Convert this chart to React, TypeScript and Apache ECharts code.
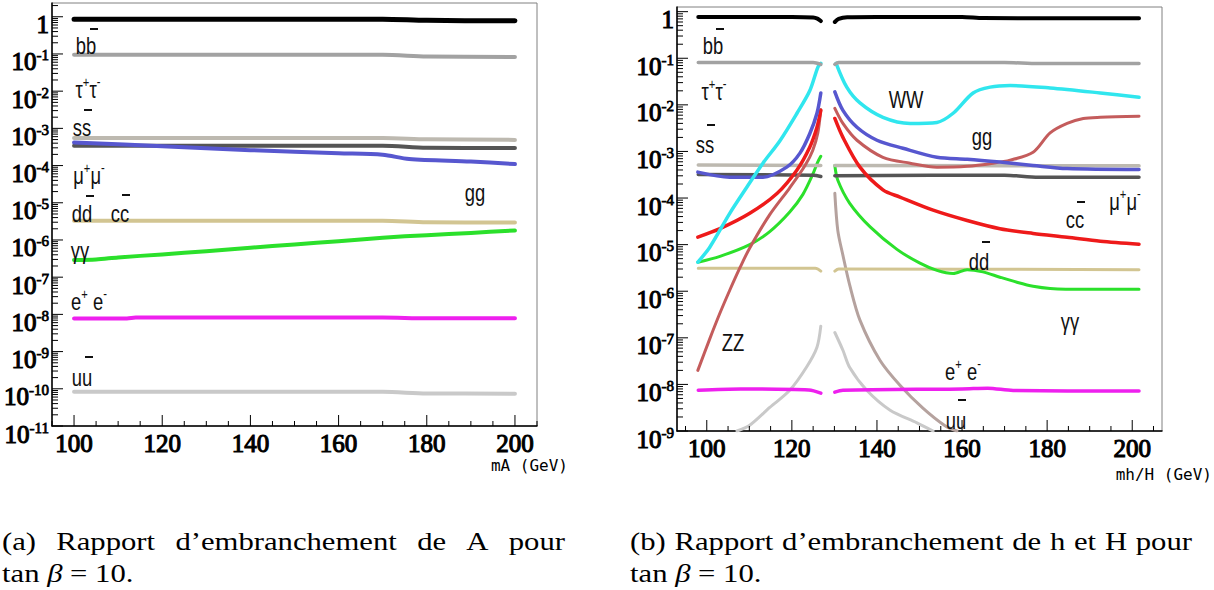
import React, { useEffect, useRef } from 'react';
import * as echarts from 'echarts';

type P = [number, number];

// ---------- Panel (a): A, tan(beta) = 10  (x = mA in GeV, y = branching ratio) ----------
const A_BB: P[] = [[100, 0.86], [150, 0.86], [170, 0.86], [180, 0.8], [200, 0.78]];
const A_TAUTAU: P[] = [[100, 0.095], [170, 0.095], [180, 0.086], [200, 0.083]];
const A_SS: P[] = [[100, 5.5e-4], [170, 5.5e-4], [180, 5.1e-4], [200, 4.9e-4]];
const A_MUMU: P[] = [[100, 3.4e-4], [170, 3.4e-4], [180, 3.0e-4], [200, 2.95e-4]];
const A_GG: P[] = [[100, 4.2e-4], [120, 3.3e-4], [140, 2.6e-4], [160, 2.15e-4], [170, 1.95e-4], [176, 1.5e-4], [190, 1.28e-4], [200, 1.1e-4]];
const A_DD: P[] = [[100, 3.3e-6], [170, 3.3e-6], [180, 3.0e-6], [200, 2.95e-6]];
const A_GAMGAM: P[] = [[100, 2.9e-7], [105, 3.0e-7], [110, 3.4e-7], [120, 4.1e-7], [130, 5.0e-7], [140, 6.2e-7], [150, 7.6e-7], [160, 9.3e-7], [170, 1.15e-6], [180, 1.35e-6], [190, 1.55e-6], [200, 1.8e-6]];
const A_EE: P[] = [[100, 7.8e-9], [112, 7.8e-9], [114, 8.2e-9], [170, 8.2e-9], [180, 7.9e-9], [200, 7.9e-9]];
const A_UU: P[] = [[100, 8.3e-11], [170, 8.3e-11], [180, 7.5e-11], [200, 7.4e-11]];

// ---------- Panel (b): h (left branch) and H (right branch), tan(beta) = 10 ----------
const h_BB: P[] = [[98, 0.77], [110, 0.77], [120, 0.77], [125, 0.75], [126, 0.71], [126.8, 0.63]];
const H_BB: P[] = [[130.1, 0.6], [131, 0.7], [133, 0.76], [140, 0.77], [160, 0.77], [165, 0.73], [201.6, 0.72]];
const h_TAUTAU: P[] = [[98, 0.081], [125, 0.081], [126.8, 0.074]];
const H_TAUTAU: P[] = [[130.1, 0.074], [131, 0.081], [170, 0.081], [178, 0.077], [201.6, 0.077]];
const h_SS: P[] = [[98, 5.1e-4], [126.8, 5.0e-4]];
const H_SS: P[] = [[130.1, 5.0e-4], [201.6, 4.9e-4]];
const h_MUMU: P[] = [[98, 3.2e-4], [125, 3.1e-4], [126.8, 2.9e-4]];
const H_MUMU: P[] = [[130.1, 3.0e-4], [170, 3.1e-4], [178, 2.8e-4], [201.6, 2.8e-4]];
const h_DD: P[] = [[98, 3.1e-6], [125.5, 3.1e-6], [126.8, 2.7e-6]];
const H_DD: P[] = [[130.1, 2.7e-6], [131, 3.0e-6], [201.6, 2.9e-6]];
const h_EE: P[] = [[98, 7.5e-9], [108, 8.0e-9], [124, 7.6e-9], [126.8, 6.5e-9]];
const H_EE: P[] = [[130.1, 6.8e-9], [132, 7.5e-9], [160, 8.0e-9], [166, 8.3e-9], [172, 7.4e-9], [201.6, 7.2e-9]];
const h_WW: P[] = [[97.9, 4.2e-6], [100.7, 8.8e-6], [105.4, 4.7e-5], [109.4, 1.7e-4], [113.2, 5.6e-4], [117.2, 1.7e-3], [121.2, 6.6e-3], [124.2, 0.02], [126.1, 0.064], [126.8, 0.078]];
const H_WW: P[] = [[130.4, 0.078], [132.9, 0.024], [136, 0.011], [141.4, 5.4e-3], [147.8, 4.0e-3], [154.1, 4.2e-3], [157.9, 6.6e-3], [162.6, 0.018], [166.6, 0.024], [171.3, 0.026], [180.7, 0.023], [192.5, 0.018], [201.6, 0.0146]];
const h_GG: P[] = [[97.9, 3.6e-4], [105.4, 2.8e-4], [113.2, 2.8e-4], [118.8, 4.6e-4], [121.9, 9.2e-4], [124.2, 2.4e-3], [125.9, 6.6e-3], [126.8, 0.018]];
const H_GG: P[] = [[130.1, 0.019], [132, 7.6e-3], [135.3, 3.3e-3], [140, 1.74e-3], [146.1, 1.17e-3], [154.1, 7.5e-4], [161.2, 6.8e-4], [168.9, 5.9e-4], [176.7, 5.0e-4], [184.7, 4.3e-4], [201.6, 4.1e-4]];
const h_CC: P[] = [[97.9, 1.45e-5], [103.1, 2.2e-5], [110.1, 4.7e-5], [116.5, 1.25e-4], [121.2, 4.0e-4], [124.2, 1.23e-3], [125.9, 3.3e-3], [126.8, 7.6e-3]];
const H_CC: P[] = [[130.1, 5.1e-3], [132, 2.0e-3], [136, 4.6e-4], [141.4, 1.5e-4], [145.4, 1.05e-4], [153.2, 5.5e-5], [161.2, 3.3e-5], [168.9, 2.2e-5], [176.7, 1.74e-5], [184.7, 1.44e-5], [192.5, 1.18e-5], [201.6, 1.02e-5]];
const h_ZZ: P[] = [[97.9, 2.0e-8], [100.7, 9.5e-8], [103.1, 3.4e-7], [105.4, 1.05e-6], [107.8, 3.2e-6], [110.1, 8.5e-6], [114.8, 4.4e-5], [119.5, 1.66e-4], [123.1, 5.0e-4], [124.9, 1.05e-3], [126.1, 2.5e-3], [126.8, 7.9e-3]];
const H_ZZ: P[] = [[130.1, 8.4e-3], [132, 4.0e-3], [135.3, 1.74e-3], [141.4, 7.5e-4], [147.8, 5.6e-4], [154.1, 4.6e-4], [161.2, 4.8e-4], [167.3, 5.6e-4], [171.3, 6.5e-4], [176.7, 9.6e-4], [180.7, 2.5e-3], [184.7, 4.0e-3], [188.5, 5.1e-3], [192.5, 5.4e-3], [201.6, 5.7e-3]];
const h_GAMGAM: P[] = [[97.9, 4.2e-6], [103.1, 5.6e-6], [110.1, 1.0e-5], [114.8, 1.9e-5], [119.5, 5.0e-5], [122.6, 1.2e-4], [124.9, 3.2e-4], [126.1, 6.0e-4], [126.8, 7.9e-4]];
const H_GAMGAM: P[] = [[130.1, 5.0e-4], [130.8, 2.4e-4], [133.6, 7.7e-5], [138.4, 2.4e-5], [144.7, 7.9e-6], [150.1, 4.0e-6], [154.1, 2.8e-6], [157.9, 2.4e-6], [161.2, 2.9e-6], [164.9, 2.6e-6], [168.9, 2.0e-6], [172.9, 1.56e-6], [176.7, 1.28e-6], [180.7, 1.15e-6], [188.5, 1.1e-6], [201.6, 1.1e-6]];
const h_UU: P[] = [[107.1, 1.0e-9], [110.1, 1.33e-9], [114.8, 3.2e-9], [119.5, 7.5e-9], [123.5, 2.4e-8], [125.9, 6.3e-8], [126.8, 1.78e-7]];
const H_UU: P[] = [[130.1, 1.3e-7], [132, 5.4e-8], [133.6, 2.3e-8], [137.6, 7.5e-9], [143.1, 2.8e-9], [149.4, 1.5e-9], [153.2, 1.0e-9]];
const H_ZZ2: P[] = [[130.1, 1.26e-4], [130.8, 2.0e-5], [132, 5.9e-6], [133.6, 1.35e-6], [136, 2.4e-7], [140.7, 3.3e-8], [145.4, 9.6e-9], [150.8, 3.1e-9], [156, 1.3e-9], [158.8, 1.0e-9]];

// ---------- axis tick labels ----------
const X_TICK_LABELS = [100, 120, 140, 160, 180, 200];
const Y_EXP_A = [0, -1, -2, -3, -4, -5, -6, -7, -8, -9, -10, -11];
const Y_EXP_B = [0, -1, -2, -3, -4, -5, -6, -7, -8, -9];

// ---------- styling ----------
const C = {
  black: '#000000', gray: '#a2a2a2', light: '#bdb9b0', dark: '#555555', khaki: '#d2c592',
  green: '#2be02b', magenta: '#ee20ee', ugray: '#c9c9c9', blue: '#5757cf', red: '#ee1a1a',
  rosy: '#c45c5c', cyan: '#30e6ee', brown: '#b5a29e',
};

const toLog = (arr: P[]) => arr.map(([x, v]) => [x, Math.log10(v)]);

function lineSeries(data: P[], color: string, width: number, grid: number, z = 3) {
  return {
    type: 'line', xAxisIndex: grid, yAxisIndex: grid, data: toLog(data), symbol: 'none',
    smooth: 0.3, lineStyle: { color, width, cap: 'round', join: 'round' }, z, silent: true,
  };
}

function buildTicks(xmin: number, xmax: number, ymin: number, ymax: number) {
  const out: number[][] = [];
  for (let x = Math.ceil(xmin / 5) * 5; x <= xmax; x += 5) out.push([x, ymin, x % 20 === 0 ? 11 : 5, 0]);
  for (let n = ymin; n <= Math.floor(ymax); n++) {
    out.push([xmin, n, 11, 1]);
    for (let k = 2; k <= 9; k++) {
      const l = n + Math.log10(k);
      if (l <= ymax) out.push([xmin, l, 6, 1]);
    }
  }
  return out;
}

const tickSeries = (grid: number, data: number[][]) => ({
  type: 'custom', xAxisIndex: grid, yAxisIndex: grid, data, silent: true, clip: false, z: 10,
  encode: { x: 0, y: 1 },
  renderItem: (_p: any, api: any) => {
    const pt = api.coord([api.value(0), api.value(1)]);
    const len = api.value(2);
    const o = api.value(3);
    return {
      type: 'line',
      shape: o === 0 ? { x1: pt[0], y1: pt[1], x2: pt[0], y2: pt[1] - len } : { x1: pt[0], y1: pt[1], x2: pt[0] + len, y2: pt[1] },
      style: { stroke: '#000', lineWidth: 1 },
    };
  },
});

function axisCfg(grid: number, min: number, max: number) {
  return {
    gridIndex: grid, type: 'value', min, max, interval: 1,
    axisLine: { show: true, onZero: false, lineStyle: { color: '#000', width: 1.5 } },
    axisTick: { show: false }, splitLine: { show: false }, axisLabel: { show: false },
  };
}

// ---------- annotations ----------
const LBL_RICH = {
  m: { fontFamily: 'Liberation Sans', fontSize: 23, lineHeight: 28, fill: '#111' },
  s: { fontFamily: 'Liberation Sans', fontSize: 14, lineHeight: 14, verticalAlign: 'top', fill: '#111' },
};
type Lbl = { t: string; x: number; y: number; bar?: [number, number] };
const LABELS: Lbl[] = [
  // panel (a)
  { t: '{m|bb}', x: 86, y: 46, bar: [90, 29] },
  { t: '{m|τ}{s|+}{m|τ}{s|-}', x: 88, y: 90 },
  { t: '{m|ss}', x: 82, y: 128, bar: [84, 110] },
  { t: '{m|μ}{s|+}{m|μ}{s|-}', x: 89, y: 176 },
  { t: '{m|dd}', x: 82, y: 214, bar: [86, 196] },
  { t: '{m|cc}', x: 120, y: 214, bar: [122, 195] },
  { t: '{m|γγ}', x: 80, y: 251 },
  { t: '{m|e}{s|+}{m| e}{s|-}', x: 89, y: 302 },
  { t: '{m|uu}', x: 82, y: 378, bar: [85, 357] },
  { t: '{m|gg}', x: 475, y: 193 },
  // panel (b)
  { t: '{m|bb}', x: 713, y: 46, bar: [716, 29] },
  { t: '{m|τ}{s|+}{m|τ}{s|-}', x: 714, y: 92 },
  { t: '{m|ss}', x: 705, y: 145, bar: [707, 125] },
  { t: '{m|WW}', x: 906, y: 100 },
  { t: '{m|gg}', x: 982, y: 137 },
  { t: '{m|μ}{s|+}{m|μ}{s|-}', x: 1125, y: 202 },
  { t: '{m|cc}', x: 1075, y: 220, bar: [1077, 202] },
  { t: '{m|dd}', x: 979, y: 262, bar: [982, 242] },
  { t: '{m|γγ}', x: 1070, y: 322 },
  { t: '{m|e}{s|+}{m| e}{s|-}', x: 963, y: 372 },
  { t: '{m|uu}', x: 956, y: 421, bar: [958, 400] },
  { t: '{m|ZZ}', x: 733, y: 343 },
];

const CAP_SIZE = 26;
const CAP_SCALE = 1.18;
const CAP_FONT = { fontFamily: 'Liberation Serif', fontSize: CAP_SIZE, fill: '#000' };
const CAPTION_A = ['(a)', 'Rapport', 'd’embranchement', 'de', 'A', 'pour'];
const CAPTION_B = ['(b)', 'Rapport', 'd’embranchement', 'de', 'h', 'et', 'H', 'pour'];

function measure(text: string) {
  const ctx = document.createElement('canvas').getContext('2d');
  if (!ctx) return text.length * CAP_SIZE * 0.45;
  ctx.font = `${CAP_SIZE}px "Liberation Serif"`;
  return ctx.measureText(text).width;
}

function justified(words: string[], left: number, right: number, y: number) {
  const w = words.map((t) => measure(t) * CAP_SCALE);
  const total = w.reduce((a, b) => a + b, 0);
  const gap = (right - left - total) / (words.length - 1);
  const out: any[] = [];
  let x = left;
  words.forEach((t, i) => {
    out.push({ type: 'text', x, y, scaleX: CAP_SCALE, silent: true, style: { text: t, ...CAP_FONT, align: 'left', verticalAlign: 'middle' } });
    x += w[i] + gap;
  });
  return out;
}

// tick labels: heavy serif (regular face thickened with a stroke)
const TICK_FONT = { fontFamily: 'Liberation Serif', fill: '#000', stroke: '#000', lineWidth: 1.1 };
const TICK_RICH = {
  b: { ...TICK_FONT, fontSize: 25, lineHeight: 28 },
  e: { ...TICK_FONT, fontSize: 15, lineHeight: 15, lineWidth: 0.8, verticalAlign: 'top' },
};

function tickLabels(chart: any, grid: number, xmin: number, ymin: number, exps: number[]) {
  const g: any[] = [];
  exps.forEach((e) => {
    const p = chart.convertToPixel({ gridIndex: grid }, [xmin, e]);
    g.push({ type: 'text', x: p[0] - 3, y: p[1] + 8, silent: true, z: 50,
      style: { text: e === 0 ? '{b|1}' : `{b|10}{e|${e}}`, rich: TICK_RICH, ...TICK_FONT, align: 'right', verticalAlign: 'middle' } });
  });
  X_TICK_LABELS.forEach((v) => {
    const p = chart.convertToPixel({ gridIndex: grid }, [v, ymin]);
    g.push({ type: 'text', x: p[0], y: p[1] + 17, silent: true, z: 50,
      style: { text: String(v), ...TICK_FONT, fontSize: 25, align: 'center', verticalAlign: 'middle' } });
  });
  return g;
}

function buildGraphic(chart: any) {
  const g: any[] = [];
  LABELS.forEach((l) => {
    g.push({ type: 'text', x: l.x, y: l.y, scaleX: 0.8, z: 100, silent: true,
      style: { text: l.t, rich: LBL_RICH, align: 'center', verticalAlign: 'middle', fill: '#111' } });
    if (l.bar) g.push({ type: 'rect', z: 100, silent: true, shape: { x: l.bar[0], y: l.bar[1] - 1, width: 8, height: 2 }, style: { fill: '#111' } });
  });
  g.push(...tickLabels(chart, 0, 95, -11, Y_EXP_A));
  g.push(...tickLabels(chart, 1, 93, -9, Y_EXP_B));
  g.push({ type: 'text', x: 568, y: 465, silent: true, style: { text: 'mA (GeV)', fontFamily: 'DejaVu Sans Mono', fontSize: 16, fill: '#000', align: 'right', verticalAlign: 'middle' } });
  g.push({ type: 'text', x: 1212, y: 474, silent: true, style: { text: 'mh/H (GeV)', fontFamily: 'DejaVu Sans Mono', fontSize: 16, fill: '#000', align: 'right', verticalAlign: 'middle' } });
  g.push(...justified(CAPTION_A, 2, 565, 541));
  g.push(...justified(CAPTION_B, 630, 1192, 541));
  const tanRich = { r: { ...CAP_FONT }, i: { ...CAP_FONT, fontStyle: 'italic' } };
  [2, 630].forEach((x) => g.push({ type: 'text', x, y: 573, scaleX: CAP_SCALE, silent: true, style: { text: '{r|tan }{i|β}{r| = 10.}', rich: tanRich, align: 'left', verticalAlign: 'middle' } }));
  return g;
}

export default function App() {
  const ref = useRef<HTMLDivElement>(null);
  useEffect(() => {
    if (!ref.current) return;
    const chart = echarts.init(ref.current, undefined, { renderer: 'svg' });
    const A = 0, B = 1;
    chart.setOption({
      animation: false,
      backgroundColor: '#ffffff',
      grid: [
        { left: 52, top: 3, width: 485, height: 423, show: true, borderColor: '#808080', borderWidth: 1, backgroundColor: 'transparent' },
        { left: 677, top: 7, width: 485, height: 424, show: true, borderColor: '#808080', borderWidth: 1, backgroundColor: 'transparent' },
      ],
      xAxis: [axisCfg(A, 95, 205), axisCfg(B, 93, 207)],
      yAxis: [axisCfg(A, -11, 0.37), axisCfg(B, -9, 0.1)],
      series: [
        lineSeries(A_UU, C.ugray, 4, A),
        lineSeries(A_EE, C.magenta, 4, A),
        lineSeries(A_GAMGAM, C.green, 4, A),
        lineSeries(A_DD, C.khaki, 4, A),
        lineSeries(A_SS, C.light, 4, A),
        lineSeries(A_MUMU, C.dark, 4, A),
        lineSeries(A_GG, C.blue, 4, A),
        lineSeries(A_TAUTAU, C.gray, 4, A),
        lineSeries(A_BB, C.black, 5, A),
        lineSeries(h_UU, C.ugray, 3, B), lineSeries(H_UU, C.ugray, 3, B),
        lineSeries(H_ZZ2, C.brown, 3, B),
        lineSeries(h_EE, C.magenta, 3.5, B), lineSeries(H_EE, C.magenta, 3.5, B),
        lineSeries(h_DD, C.khaki, 3, B), lineSeries(H_DD, C.khaki, 3, B),
        lineSeries(h_GAMGAM, C.green, 3, B), lineSeries(H_GAMGAM, C.green, 3, B),
        lineSeries(h_SS, C.light, 3.5, B), lineSeries(H_SS, C.light, 3.5, B),
        lineSeries(h_MUMU, C.dark, 3.5, B), lineSeries(H_MUMU, C.dark, 3.5, B),
        lineSeries(h_ZZ, C.rosy, 3, B), lineSeries(H_ZZ, C.rosy, 3, B),
        lineSeries(h_CC, C.red, 3.5, B), lineSeries(H_CC, C.red, 3.5, B),
        lineSeries(h_GG, C.blue, 3.5, B), lineSeries(H_GG, C.blue, 3.5, B),
        lineSeries(h_WW, C.cyan, 3.5, B), lineSeries(H_WW, C.cyan, 3.5, B),
        lineSeries(h_TAUTAU, C.gray, 3.5, B), lineSeries(H_TAUTAU, C.gray, 3.5, B),
        lineSeries(h_BB, C.black, 4, B), lineSeries(H_BB, C.black, 4, B),
        tickSeries(A, buildTicks(95, 205, -11, 0.37)),
        tickSeries(B, buildTicks(93, 207, -9, 0.1)),
      ],
    });
    chart.setOption({ graphic: buildGraphic(chart) });
    return () => chart.dispose();
  }, []);
  return <div ref={ref} style={{ position: 'absolute', left: 0, top: 0, width: 1214, height: 590, background: '#fff' }} />;
}
